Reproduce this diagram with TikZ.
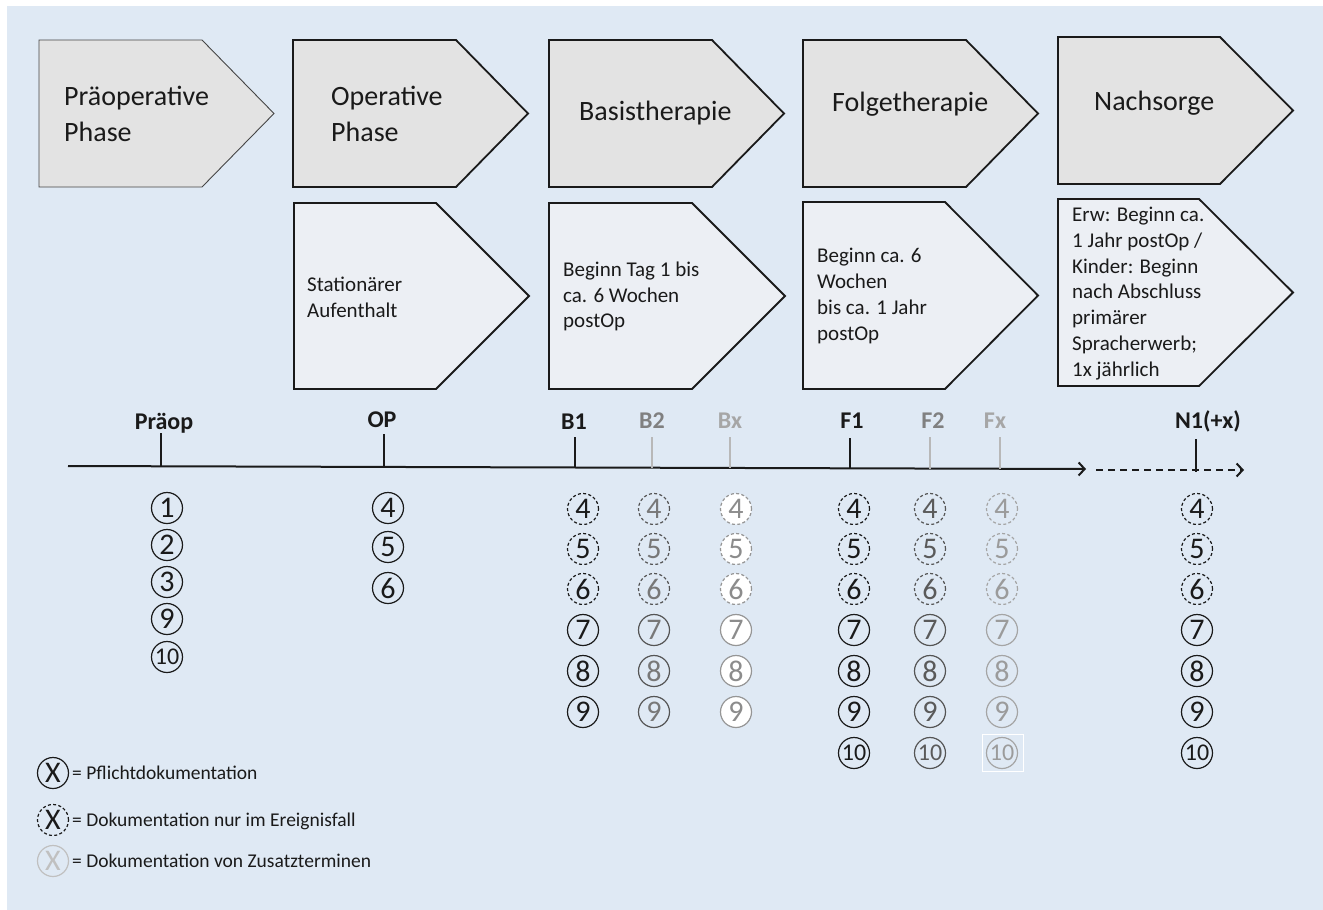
\documentclass[tikz,border=0pt]{standalone}
\usepackage{fontspec}
\setmainfont{Carlito}
\usetikzlibrary{arrows.meta}
\definecolor{panel}{RGB}{223,233,244}
\definecolor{hdrfill}{RGB}{227,227,227}
\definecolor{subfill}{RGB}{236,239,244}
\definecolor{ink}{RGB}{26,26,26}
\definecolor{thinline}{RGB}{70,70,70}
\definecolor{gline}{RGB}{85,85,85}
\definecolor{gtextB}{RGB}{120,120,120}
\definecolor{gtextF}{RGB}{90,90,90}
\definecolor{xline}{RGB}{150,150,150}
\definecolor{xtext}{RGB}{140,140,140}
\definecolor{fxline}{RGB}{165,165,165}
\definecolor{fxtext}{RGB}{155,155,155}
\definecolor{lblB}{RGB}{128,128,128}
\definecolor{lblX}{RGB}{166,166,166}
\definecolor{tickg}{RGB}{184,184,184}
\definecolor{legx}{RGB}{192,192,192}
\newcommand\cdig[1]{\ifnum#1>9 {\fontsize{24}{24}\selectfont#1}\else#1\fi}
\begin{document}
\begin{tikzpicture}[x=1pt,y=-1pt,
  hdr/.style={fill=hdrfill,draw=ink,line width=1.8pt,line join=miter},
  hdrthin/.style={fill=hdrfill,draw=thinline,line width=0.9pt,line join=miter},
  sub/.style={fill=subfill,draw=ink,line width=1.8pt,line join=miter},
  htext/.style={anchor=west,align=left,inner sep=0pt,text=ink,font=\fontsize{28}{36}\selectfont},
  stext/.style={anchor=west,align=left,inner sep=0pt,text=ink,font=\fontsize{21}{25.7}\selectfont},
  tlabel/.style={anchor=base,inner sep=0pt,font=\bfseries\fontsize{24}{24}\selectfont},
  axis/.style={draw=ink,line width=2pt},
  tickk/.style={draw=ink,line width=2pt},
  tickgr/.style={draw=tickg,line width=2pt},
  num/.style={circle,minimum size=31pt,inner sep=0pt,line width=1.2pt,font=\fontsize{30}{30}\selectfont},
  dsh/.style={dash pattern=on 3pt off 2.3pt},
  ck/.style={num,draw=ink,text=ink},
  ckd/.style={ck,dsh},
  cb/.style={num,draw=gline,text=gtextB},
  cbd/.style={cb,dsh},
  cf/.style={num,draw=gline,text=gtextF},
  cfd/.style={cf,dsh},
  cx/.style={num,draw=xline,text=xtext,fill=white},
  cxd/.style={cx,dsh},
  cfx/.style={num,draw=fxline,text=fxtext},
  cfxd/.style={cfx,dsh},
  legtext/.style={anchor=base west,inner sep=0pt,text=ink,font=\fontsize{19.5}{19.5}\selectfont}
]
\useasboundingbox (0,0) rectangle (1323,910);
\fill[white] (0,0) rectangle (1323,910);
\fill[panel] (7,6) rectangle (1323,910);

% header row
\draw[hdrthin] (39,40) -- (202,40) -- (274,113.5) -- (202,187) -- (39,187) -- cycle;
\draw[hdr] (293,40) -- (456,40) -- (528,113.5) -- (456,187) -- (293,187) -- cycle;
\draw[hdr] (549,40) -- (712,40) -- (784,113.5) -- (712,187) -- (549,187) -- cycle;
\draw[hdr] (803,40) -- (966,40) -- (1038,113.5) -- (966,187) -- (803,187) -- cycle;
\draw[hdr] (1058,37) -- (1220,37) -- (1293,110.5) -- (1220,184) -- (1058,184) -- cycle;
\node[htext] (hPre) at (64,114) {Präoperative\\Phase};
\node[htext] (hOp) at (331,114) {Operative\\Phase};
\node[htext] (hBasis) at (579,113) {Basistherapie};
\node[htext] (hFolge) at (832,104) {Folgetherapie};
\node[htext] (hNach) at (1094,103) {Nachsorge};

% second row
\draw[sub] (294,203) -- (436,203) -- (529,296) -- (436,389) -- (294,389) -- cycle;
\draw[sub] (549,203) -- (692,203) -- (785,296) -- (692,389) -- (549,389) -- cycle;
\draw[sub] (803,202) -- (945,202) -- (1038,295.5) -- (945,389) -- (803,389) -- cycle;
\draw[sub] (1058,199) -- (1199,199) -- (1293,292.5) -- (1199,386) -- (1058,386) -- cycle;
\node[stext] (sOp) at (307,297) {Stationärer\\Aufenthalt};
\node[stext] (sBasis) at (563,296.5) {Beginn Tag 1 bis\\ca. 6 Wochen\\postOp};
\node[stext] (sFolge) at (817,296) {Beginn ca. 6\\Wochen\\bis ca. 1 Jahr\\postOp};
\node[stext] (sNach) at (1072,293.5) {Erw: Beginn ca.\\1 Jahr postOp /\\Kinder: Beginn\\nach Abschluss\\primärer\\Spracherwerb;\\1x jährlich};

% timeline
\coordinate (tlS) at (68,466);
\coordinate (tlE) at (1086,469);
\coordinate (tdS) at (1096,470);
\coordinate (tdE) at (1244,470);
\draw[axis,-{Straight Barb[length=6pt,width=13pt]}] (tlS) -- (tlE);
\draw[axis,dash pattern=on 7pt off 5pt,-{Straight Barb[length=6pt,width=13pt]}] (tdS) -- (tdE);

\draw[tickk] (161,433) -- (161,467);
\draw[tickk] (384,434) -- (384,467);
\draw[tickk] (575,437) -- (575,468);
\draw[tickgr] (652,437) -- (652,468);
\draw[tickgr] (730,437) -- (730,468);
\draw[tickk] (850,438) -- (850,468);
\draw[tickgr] (930,437) -- (930,469);
\draw[tickgr] (1000,437) -- (1000,469);
\draw[tickk] (1196,439) -- (1196,472);

\node[tlabel,text=ink] (lPre) at (164,429) {Präop};
\node[tlabel,text=ink] (lOP) at (382,427) {OP};
\node[tlabel,text=ink] (lB1) at (574,429) {B1};
\node[tlabel,text=lblB] (lB2) at (652,428) {B2};
\node[tlabel,text=lblX] (lBx) at (730,428) {Bx};
\node[tlabel,text=ink] (lF1) at (852,428) {F1};
\node[tlabel,text=lblB] (lF2) at (933,428) {F2};
\node[tlabel,text=lblX] (lFx) at (995,428) {Fx};
\node[tlabel,text=ink] (lN1) at (1208,428) {N1(+x)};

% circled numbers
\foreach \d/\y in {1/508,2/545,3/582,9/619,10/657}
  \node[ck] (pre\d) at (167,\y) {\cdig{\d}};
\foreach \d/\y in {4/508,5/547,6/588}
  \node[ck] (op\d) at (388,\y) {\cdig{\d}};
\foreach \d/\y in {4/509,5/549,6/589,7/630,8/671,9/712}{
  \ifnum\d<7 \def\sa{ckd}\def\sb{cbd}\def\sc{cxd}\else\def\sa{ck}\def\sb{cb}\def\sc{cx}\fi
  \node[\sa] (bA\d) at (583,\y) {\cdig{\d}};
  \node[\sb] (bB\d) at (654,\y) {\cdig{\d}};
  \node[\sc] (bX\d) at (736,\y) {\cdig{\d}};
}
\foreach \d/\y in {4/509,5/549,6/589,7/630,8/671,9/712,10/753}{
  \ifnum\d<7 \def\sa{ckd}\def\sb{cfd}\def\sc{cfxd}\else\def\sa{ck}\def\sb{cf}\def\sc{cfx}\fi
  \node[\sa] (fA\d) at (854,\y) {\cdig{\d}};
  \node[\sb] (fB\d) at (930,\y) {\cdig{\d}};
  \node[\sc] (fX\d) at (1002,\y) {\cdig{\d}};
  \node[\sa] (nA\d) at (1197,\y) {\cdig{\d}};
}
\draw[white,line width=1pt] (982,734) rectangle (1023,771);

% legend
\node[ck] (lg1) at (53,773) {X};
\node[legtext] (lt1) at (72,779) {= Pflichtdokumentation};
\node[ckd] (lg2) at (53,820) {X};
\node[legtext] (lt2) at (72,826) {= Dokumentation nur im Ereignisfall};
\node[num,draw=legx,text=legx] (lg3) at (53,861) {X};
\node[legtext] (lt3) at (72,867) {= Dokumentation von Zusatzterminen};
\end{tikzpicture}
\end{document}
